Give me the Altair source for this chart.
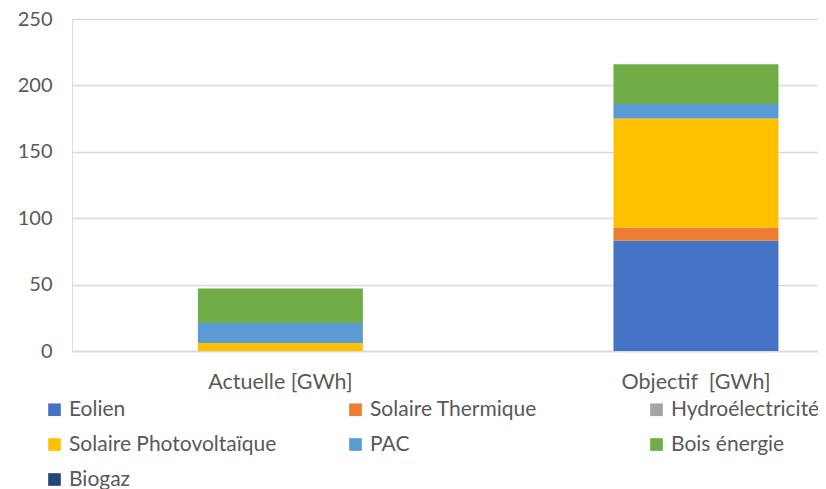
import altair as alt
import pandas as pd

categories = ["Actuelle [GWh]", "Objectif\u00a0 [GWh]"]
sources = ["Eolien", "Solaire Thermique", "Hydroélectricité",
           "Solaire Photovoltaïque", "PAC", "Bois énergie", "Biogaz"]
colors = ["#4472C4", "#ED7D31", "#A5A5A5", "#FFC000", "#5B9BD5", "#70AD47", "#264478"]
actuelle = [0, 0, 0, 6, 15, 26, 0]
objectif = [83, 10, 0, 82, 11, 30, 0]
y_ticks = [0, 50, 100, 150, 200, 250]

rows = []
for cat, vals in zip(categories, [actuelle, objectif]):
    for i, (s, v) in enumerate(zip(sources, vals)):
        rows.append({"cat": cat, "source": s, "idx": i, "value": v})
df = pd.DataFrame(rows)

FONT = "Lato"
TXT = "#595959"

chart = alt.Chart(df).mark_bar().encode(
    x=alt.X("cat:N", sort=categories,
            scale=alt.Scale(domain=categories, paddingInner=0.603, paddingOuter=0.199, align=0.761),
            axis=alt.Axis(title=None, labelAngle=0, ticks=False, domain=True, domainColor="#D9D9D9",
                          domainWidth=1.5, labelFont=FONT, labelFontSize=21.5, labelColor=TXT,
                          labelPadding=20)),
    y=alt.Y("value:Q", stack="zero",
            scale=alt.Scale(domain=[0, 250], nice=False),
            axis=alt.Axis(title=None, values=y_ticks, ticks=False, domain=False,
                          gridColor="#D9D9D9", gridWidth=1.5, labelFont=FONT, labelFontSize=20,
                          labelColor=TXT, labelPadding=20)),
    color=alt.Color("source:N", scale=alt.Scale(domain=sources, range=colors),
                    legend=alt.Legend(orient="none", legendX=-28, legendY=380, columns=3,
                                      direction="horizontal",
                                      symbolType="square", symbolSize=160, symbolStrokeWidth=0,
                                      labelFont=FONT, labelFontSize=21, labelColor=TXT,
                                      rowPadding=13, columnPadding=68, gridAlign="all",
                                      labelOffset=4, padding=0, title=None, labelLimit=400)),
    order=alt.Order("idx:Q", sort="ascending"),
).properties(
    width=746, height=332,
    autosize=alt.AutoSizeParams(type="none"),
    padding={"left": 64, "top": 11, "right": 0, "bottom": 138},
).configure_view(stroke=None).configure(background="white")

chart.save("out.html", embed_options={"renderer": "svg", "actions": False})
